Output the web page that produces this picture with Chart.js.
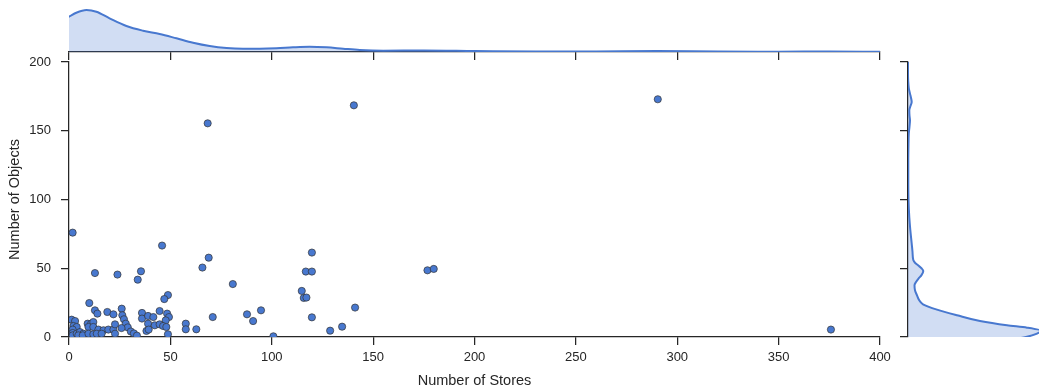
<!DOCTYPE html>
<html><head><meta charset="utf-8">
<script src="https://cdn.jsdelivr.net/npm/chart.js@4/dist/chart.umd.min.js"></script>
<style>
html,body{margin:0;padding:0;background:#fff;overflow:hidden}
#wrap{position:relative;width:1039px;height:391px;background:#fff}
canvas{position:absolute}
</style></head><body>
<div id="wrap">
<canvas id="main" width="1039" height="391" style="left:0;top:0;width:1039px;height:391px"></canvas>
<canvas id="top" width="1039" height="62" style="left:0;top:0;width:1039px;height:62px"></canvas>
<canvas id="right" width="159" height="391" style="left:880px;top:0;width:159px;height:391px"></canvas>
</div>
<script>
// ---- data ----
const stores = [1.8,68.4,140.5,290.4,375.8,45.9,68.9,65.8,80.8,119.8,116.8,119.8,114.8,115.8,117.1,119.8,141.1,134.7,128.8,100.8,176.8,179.9,87.8,90.8,94.7,70.9,57.6,57.6,62.8,12.8,23.9,35.5,33.9,10.0,48.8,47.0,
  1.3,3.0,2.2,3.8,1.8,1.8,1.8,3.8,5.4,7.1,4.6,6.8,9.2,10.9,12.0,9.6,12.0,14.5,17.0,9.6,12.0,13.7,16.1,19.4,21.9,22.7,22.7,12.8,14.0,18.9,21.9,26.0,26.3,27.1,28.0,29.0,30.5,32.0,33.5,25.9,36.0,36.0,39.0,41.6,44.7,48.4,49.3,47.7,39.0,42.3,44.7,46.4,38.2,39.3,48.0,48.8];
const objects = [75.9,155.4,168.5,172.9,5.4,66.5,57.7,50.5,38.5,61.4,47.6,47.6,33.5,28.4,28.7,14.3,21.4,7.5,4.6,0.5,48.5,49.5,16.5,11.6,19.4,14.5,9.7,5.6,5.6,46.5,45.4,47.8,41.7,24.7,30.5,27.6,
  12.6,11.6,8.0,7.3,5.4,2.9,1.2,2.4,3.6,2.4,1.2,1.2,9.7,9.7,10.9,7.3,7.3,5.4,4.9,2.4,2.0,2.4,2.4,5.4,5.4,9.2,2.4,19.4,17.0,18.2,16.5,20.6,15.8,12.9,9.7,7.0,4.0,2.6,1.0,6.5,17.5,13.4,15.3,14.5,18.9,17.0,14.5,12.1,9.7,8.5,9.2,8.0,4.4,5.4,7.3,2.0];

// marginal density curve for "Number of Stores" (relative height)
const topKdeX = [-5,0,3.6,8.6,13.5,20,28.3,36.5,44.7,53,61.2,69.4,77.7,85.8,94.1,102.3,110.5,118.7,127,135.2,143.4,155,175,200,230,260,290,320,350,375,400];
const topKdeDensity = [31,35.3,39.3,42,40.3,33.7,26,21.3,18,13.7,9.3,6,4,3.3,3.3,3.7,4.7,5.3,4.7,3.3,2,1.3,1.5,1.0,0.5,0.6,0.9,0.4,0.3,0.5,0.2];

// marginal density curve for "Number of Objects" (relative width)
const rightKdeY = [-3,0,2.5,4.5,6.8,8.5,11.6,15.8,19.9,23.8,27,30.3,34,37.6,40,42.5,45,48,50,52,54,56,62,68,78,87,100,115,128,140,148,153,157.6,161,165,168,171,174,177,181,186,192,200];
const rightKdeDensity = [95,118,129,133,119,99,72,49,29,15,11,9,7,6.5,8,10.5,13.5,15.3,13.5,10.3,7,5.3,4.5,3.7,2.3,1.3,0.5,0.3,0.3,0.5,0.8,1.5,2,1.5,1.3,2.5,3.7,3,2,0.8,0.2,0,0];

const xTicks = [0,50,100,150,200,250,300,350,400];
const yTicks = [0,50,100,150,200];
const xTitle = 'Number of Stores';
const yTitle = 'Number of Objects';

// ---- styles ----
const FONT = "'Liberation Sans', Arial, sans-serif";
const INK = '#262626';
const BLUE = '#4878CF';
const BLUE_FILL = 'rgba(72,120,207,0.25)';
const gridOut = {drawOnChartArea:false, drawTicks:true, tickLength:8, color:INK, tickColor:INK, lineWidth:1.25, tickWidth:1.25};
const border = {display:true, color:INK, width:1.25};
const base = {responsive:false, animation:false, events:[], plugins:{legend:{display:false}, tooltip:{enabled:false}}};

new Chart(document.getElementById('main'), {
  type:'scatter',
  data:{datasets:[{data: stores.map((x,i)=>({x, y:objects[i]})), backgroundColor:BLUE, borderColor:'#333333', borderWidth:0.7, pointRadius:3.6, pointHoverRadius:3.6}]},
  options:Object.assign({}, base, {
    layout:{padding:{left:0, top:62, right:159, bottom:0}},
    scales:{
      x:{type:'linear', min:0, max:400, position:'bottom',
        afterBuildTicks:s=>{s.ticks = xTicks.map(v=>({value:v}));},
        ticks:{color:INK, font:{family:FONT,size:13}, padding:5, maxRotation:0, autoSkip:false},
        grid:gridOut, border:border,
        title:{display:true, text:xTitle, color:INK, font:{family:FONT,size:14.5}, padding:{top:0,bottom:1}},
        afterFit:s=>{s.height = 54;}},
      y:{type:'linear', min:0, max:200, position:'left',
        afterBuildTicks:s=>{s.ticks = yTicks.map(v=>({value:v}));},
        ticks:{color:INK, font:{family:FONT,size:13}, padding:10, autoSkip:false},
        grid:gridOut, border:border,
        title:{display:true, text:yTitle, color:INK, font:{family:FONT,size:14.5}, padding:{top:6,bottom:0}},
        afterFit:s=>{s.width = 69;}}
    }
  })
});

new Chart(document.getElementById('top'), {
  type:'line',
  data:{datasets:[{data: topKdeX.map((x,i)=>({x, y:topKdeDensity[i]})), borderColor:BLUE, backgroundColor:BLUE_FILL, borderWidth:2, pointRadius:0, fill:'origin', cubicInterpolationMode:'monotone'}]},
  options:Object.assign({}, base, {
    layout:{padding:{left:69, top:0, right:159, bottom:0}},
    scales:{
      x:{type:'linear', min:0, max:400, position:'bottom',
        afterBuildTicks:s=>{s.ticks = xTicks.map(v=>({value:v}));},
        ticks:{display:false}, grid:gridOut, border:border,
        afterFit:s=>{s.height = 10;}},
      y:{type:'linear', min:0, max:52, display:false}
    }
  })
});

new Chart(document.getElementById('right'), {
  type:'line',
  data:{datasets:[{data: rightKdeY.map((y,i)=>({x:rightKdeDensity[i], y})), borderColor:BLUE, backgroundColor:BLUE_FILL, borderWidth:2, pointRadius:0, fill:'origin', cubicInterpolationMode:'monotone'}]},
  options:Object.assign({}, base, {
    indexAxis:'y',
    layout:{padding:{left:0, top:62, right:0, bottom:54}},
    scales:{
      x:{type:'linear', min:0, max:131, display:false},
      y:{type:'linear', min:0, max:200, position:'left',
        afterBuildTicks:s=>{s.ticks = yTicks.map(v=>({value:v}));},
        ticks:{display:false}, grid:gridOut, border:border,
        afterFit:s=>{s.width = 28;}}
    }
  })
});
</script>
</body></html>
